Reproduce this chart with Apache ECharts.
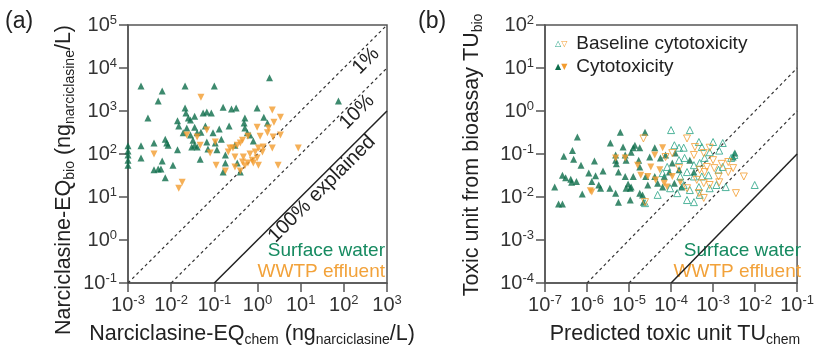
<!DOCTYPE html>
<html>
<head>
<meta charset="utf-8">
<script src="https://cdn.jsdelivr.net/npm/echarts@6/dist/echarts.min.js"></script>
<style>
  html, body { margin: 0; padding: 0; background: #fff; }
  #chart { width: 817px; height: 349px; }
</style>
</head>
<body>
<div id="chart"></div>
<script>
// panel (a): [Narciclasine-EQchem, Narciclasine-EQbio] in ng/L
const surfaceA = [
  [0.002,3800],[0.021,3800],[0.1,3800],[1.9,5900],[0.0062,2900],[0.005,1700],[75,1700],
  [0.0029,690],[0.021,1170],[0.022,900],[0.025,690],[0.035,760],[0.055,900],[0.067,950],
  [0.085,900],[0.16,1230],[0.25,1110],[0.32,1170],[0.98,1170],[0.014,590],[0.015,450],
  [0.023,400],[0.035,420],[0.062,450],[0.51,690],[0.49,525],[0.51,400],[1.4,720],[1.7,525],
  [0.22,450],[0.13,380],[0.019,310],[0.028,275],[0.04,310],[0.049,320],[0.093,310],
  [0.0073,220],[0.0079,180],[0.0085,160],[0.004,180],[0.032,210],[0.035,160],[0.03,145],
  [0.04,145],[0.067,190],[0.105,180],[0.145,220],[0.071,130],[0.115,125],[0.002,155],
  [0.014,125],[0.047,76],[0.18,95],[0.3,160],[0.8,200],[0.67,275],[0.58,310],[0.002,81],
  [0.0062,69],[0.004,43],[0.005,45],[0.0058,45],[0.011,55],[0.0073,28],[0.18,62],[0.34,62],
  [0.4,38],[0.16,38],[0.028,620],[0.001,155],[0.001,117],[0.001,95],[0.001,72],[0.001,55]
];
const wwtpA = [
  [0.049,2100],[2.2,1050],[3.4,720],[2.4,550],[1.8,400],[0.98,420],[0.6,260],[1.15,260],
  [1.7,310],[2.3,250],[3.4,275],[0.45,210],[0.4,180],[0.34,160],[0.23,138],[0.27,138],
  [0.067,360],[0.04,250],[0.023,275],[0.105,190],[0.08,105],[0.21,112],[0.47,85],[0.67,100],
  [0.89,112],[1.05,138],[1.35,145],[2.2,138],[8.8,138],[0.76,72],[0.98,81],[0.6,62],
  [1.05,55],[0.51,53],[3.0,55],[0.4,40],[0.11,55],[0.18,40],[0.004,100],[0.018,22],
  [0.015,16],[0.45,65],[0.3,50],[0.8,62],[1.3,112],[0.047,160],[0.3,85]
];

// panel (b): [TUchem, TUbio]
const surfaceCyto = [
  [1.7e-7,0.017],[2.1e-7,0.0069],[2.6e-7,0.0069],[2.6e-7,0.032],[2.8e-7,0.089],[3.1e-7,0.028],
  [4.1e-7,0.026],[4.3e-7,0.022],[5.6e-7,0.023],[4.8e-7,0.076],[4.5e-7,0.12],[5.9e-7,0.25],
  [7.2e-7,0.055],[7.7e-7,0.0118],[1.1e-6,0.036],[1.3e-6,0.023],[1.5e-6,0.069],[1.6e-6,0.031],
  [1.9e-6,0.019],[2.4e-6,0.04],[2.1e-6,0.016],[3.6e-6,0.18],[3.5e-6,0.016],[4.8e-6,0.0123],
  [5.0e-6,0.059],[5.6e-6,0.0076],[6.2e-6,0.32],[7.2e-6,0.145],[8.1e-6,0.095],[8.1e-6,0.03],
  [9.5e-6,0.02],[8.5e-6,0.016],[1.07e-5,0.016],[1.12e-5,0.017],[1.07e-5,0.0085],[1.12e-5,0.11],
  [1.26e-5,0.14],[1.38e-5,0.16],[1.26e-5,0.03],[1.7e-5,0.072],[1.8e-5,0.14],[1.8e-5,0.0123],
  [2.4e-5,0.32],[2.1e-5,0.0112],[2.2e-5,0.0076],[2.8e-5,0.019],[3.1e-5,0.085],[4.1e-5,0.14],
  [4.1e-5,0.03],[5.6e-5,0.081],[7.4e-5,0.095],[6.9e-5,0.03],[6.3e-5,0.017],[9.1e-5,0.038],
  [1.07e-4,0.062],[1.2e-4,0.021],[4.8e-6,0.095],[8.5e-6,0.072],[5.6e-6,0.038],[1.8e-5,0.05],
  [2.5e-5,0.03],[4.8e-5,0.021],[1.26e-4,0.105],[1.55e-4,0.043],[1.8e-4,0.017],[2.8e-4,0.072],
  [3.5e-4,0.038],[4.8e-6,0.072],[3.3e-3,0.105],[3.0e-3,0.085]
];
const wwtpCyto = [
  [4.8e-6,0.081],[1.3e-6,0.013],[1.6e-5,0.055],[4.1e-5,0.095],[6.3e-5,0.14],[3.3e-5,0.05],
  [5.4e-5,0.043],[2.8e-5,0.03],[4.3e-5,0.025],[6.9e-5,0.021],[1.07e-4,0.03],[1.9e-5,0.032],
  [8.1e-6,0.081],[8.1e-5,0.017],[1.66e-4,0.022],[1.2e-6,0.014]
];
const surfaceBase = [
  [1.0e-4,0.36],[2.8e-4,0.36],[1.55e-4,0.14],[2.0e-4,0.14],[4.6e-4,0.19],[5.4e-4,0.145],
  [1.0e-3,0.19],[8.3e-4,0.11],[1.4e-3,0.12],[1.7e-3,0.18],[1.55e-4,0.072],[2.1e-4,0.081],
  [3.5e-4,0.055],[4.8e-4,0.062],[6.3e-4,0.081],[1.66e-4,0.03],[2.4e-4,0.038],[3.5e-4,0.03],
  [5.4e-4,0.03],[7.8e-4,0.032],[1.35e-3,0.043],[1.7e-3,0.05],[2.7e-3,0.081],[9.5e-5,0.016],
  [1.4e-4,0.0123],[2.0e-4,0.019],[2.8e-4,0.0145],[2.4e-4,0.0085],[3.5e-4,0.0076],
  [4.8e-4,0.0112],[8.3e-4,0.016],[1.2e-3,0.019],[9.8e-3,0.019],[3.2e-3,0.095],[2.4e-5,0.0072],
  [4.8e-5,0.0112],[6.3e-5,0.036],[8.1e-5,0.05],[2.0e-3,0.017],[1.2e-4,0.16],[4.6e-4,0.017]
];
const wwtpBase = [
  [2.2e-5,0.23],[7.4e-5,0.085],[1.55e-4,0.047],[2.4e-4,0.23],[3.7e-4,0.145],[3.5e-4,0.095],
  [6.0e-4,0.105],[8.3e-4,0.14],[1.0e-3,0.072],[7.1e-4,0.05],[4.8e-4,0.043],[6.3e-4,0.038],
  [1.07e-3,0.047],[1.6e-3,0.059],[1.35e-3,0.03],[2.3e-3,0.038],[4.1e-4,0.025],[6.0e-4,0.021],
  [8.3e-4,0.019],[4.6e-4,0.0123],[6.0e-4,0.0095],[5.4e-3,0.03],[3.5e-3,0.0123],[2.4e-5,0.0076],
  [2.3e-3,0.065],[2.4e-4,0.016],[1.4e-3,0.022],[3.0e-3,0.047],[1.07e-4,0.105]
];

// explained fractions: bio = ratio * chem  (1 %, 10 %, 100 % explained)
const ratios = [100, 10, 1];
const rangeA = { x: [1e-3, 1e3], y: [1e-1, 1e5] };
const rangeB = { x: [1e-7, 1e-1], y: [1e-4, 1e2] };

const FONT = 'Liberation Sans, Arial, Helvetica, sans-serif';
const GREEN = '#0c6d4a';
const TEAL = '#27a385';
const ORANGE = '#f39c2e';
const TXT_GREEN = '#168a60';
const TXT_ORANGE = '#f2a23a';
const AXIS = '#555';

function ratioLine(range, r) {
  const x0 = Math.max(range.x[0], range.y[0] / r);
  const x1 = Math.min(range.x[1], range.y[1] / r);
  return [[x0, x0 * r], [x1, x1 * r]];
}

function logAxis(gridIndex, range, isX) {
  return {
    type: 'log',
    logBase: 10,
    gridIndex: gridIndex,
    min: range[0],
    max: range[1],
    interval: 1,
    axisLine: { show: true, onZero: false, lineStyle: { color: AXIS, width: 1.5 } },
    axisTick: { show: true, length: 9, lineStyle: { color: AXIS, width: 1.5 } },
    minorTick: { show: false },
    splitLine: { show: false },
    axisLabel: {
      margin: isX ? 11 : 11,
      color: '#333',
      fontFamily: FONT,
      fontSize: 20,
      lineHeight: 22,
      formatter: function (v) {
        return '10{s|' + Math.round(Math.log10(v)) + '}';
      },
      rich: {
        s: { fontSize: 13, lineHeight: 13, verticalAlign: 'top', fontFamily: FONT, color: '#333' }
      }
    }
  };
}

function lineSeries(idx, range) {
  return ratios.map(function (r) {
    return {
      type: 'line',
      xAxisIndex: idx,
      yAxisIndex: idx,
      data: ratioLine(range, r),
      symbol: 'none',
      silent: true,
      z: 1,
      lineStyle: r === 1
        ? { color: '#222', width: 1.5, type: 'solid' }
        : { color: '#333', width: 1.2, type: [3, 3] }
    };
  });
}

function scatter(idx, data, color, down, hollow) {
  return {
    type: 'scatter',
    xAxisIndex: idx,
    yAxisIndex: idx,
    data: data,
    symbol: 'triangle',
    symbolSize: 7,
    symbolRotate: down ? 180 : 0,
    clip: false,
    z: 3,
    itemStyle: hollow
      ? { color: 'rgba(255,255,255,0)', borderColor: color, borderWidth: 1 }
      : { color: color }
  };
}

const sub = { fontSize: 14, lineHeight: 14, verticalAlign: 'bottom', fontFamily: FONT, fill: '#222' };
function titleText(x, y, text, rot) {
  return {
    type: 'text',
    x: x,
    y: y,
    rotation: rot || 0,
    style: {
      text: text,
      fontFamily: FONT,
      fontSize: 21.5,
      lineHeight: 26,
      fill: '#222',
      align: 'center',
      verticalAlign: 'middle',
      rich: { sub: sub }
    }
  };
}
function plainText(x, y, text, size, color, align, rot) {
  return {
    type: 'text',
    x: x,
    y: y,
    rotation: rot || 0,
    style: {
      text: text,
      fontFamily: FONT,
      fontSize: size,
      fill: color,
      align: align,
      verticalAlign: 'middle'
    }
  };
}
function legendText(x, y, text, c1, c2) {
  return {
    type: 'text',
    x: x,
    y: y,
    style: {
      text: '{a|' + c1.glyph + '}{b|' + c2.glyph + '}{t|' + text + '}',
      fontFamily: FONT,
      verticalAlign: 'middle',
      rich: {
        a: { fontSize: 8, fill: c1.color, fontFamily: 'DejaVu Sans' },
        b: { fontSize: 8, fill: c2.color, fontFamily: 'DejaVu Sans', padding: [0, 9, 0, 0] },
        t: { fontSize: 19, fill: '#222', fontFamily: FONT }
      }
    }
  };
}

const chart = echarts.init(document.getElementById('chart'), null, { renderer: 'canvas' });

const option = {
  animation: false,
  backgroundColor: '#fff',
  grid: [
    { left: 128, top: 25, width: 259, height: 258, show: true, borderColor: AXIS, borderWidth: 1.5, backgroundColor: 'transparent' },
    { left: 545, top: 25, width: 258, height: 258, show: true, borderColor: AXIS, borderWidth: 1.5, backgroundColor: 'transparent' }
  ],
  xAxis: [logAxis(0, rangeA.x, true), logAxis(1, rangeB.x, true)],
  yAxis: [logAxis(0, rangeA.y, false), logAxis(1, rangeB.y, false)],
  series: [].concat(
    lineSeries(0, rangeA),
    lineSeries(1, rangeB),
    [
      scatter(0, surfaceA, GREEN, false, false),
      scatter(0, wwtpA, ORANGE, true, false),
      scatter(1, surfaceCyto, GREEN, false, false),
      scatter(1, wwtpCyto, ORANGE, true, false),
      scatter(1, surfaceBase, TEAL, false, true),
      scatter(1, wwtpBase, ORANGE, true, true)
    ]
  ),
  graphic: [
    plainText(5, 22, '(a)', 23, '#222', 'left'),
    plainText(418, 22, '(b)', 23, '#222', 'left'),
    titleText(64, 180, 'Narciclasine-EQ{sub|bio} (ng{sub|narciclasine}/L)', Math.PI / 2),
    titleText(252, 334, 'Narciclasine-EQ{sub|chem} (ng{sub|narciclasine}/L)'),
    titleText(472, 155, 'Toxic unit from bioassay TU{sub|bio}', Math.PI / 2),
    titleText(675, 334, 'Predicted toxic unit TU{sub|chem}'),
    plainText(366, 61, '1%', 20, '#222', 'center', Math.PI / 4),
    plainText(357, 112, '10%', 20, '#222', 'center', Math.PI / 4),
    plainText(322, 189, '100% explained', 20, '#222', 'center', Math.PI / 4),
    plainText(385, 251, 'Surface water', 19, TXT_GREEN, 'right'),
    plainText(385, 272, 'WWTP effluent', 19, TXT_ORANGE, 'right'),
    plainText(801, 251, 'Surface water', 19, TXT_GREEN, 'right'),
    plainText(801, 272, 'WWTP effluent', 19, TXT_ORANGE, 'right'),
    legendText(555, 44, 'Baseline cytotoxicity', { glyph: '△', color: TEAL }, { glyph: '▽', color: ORANGE }),
    legendText(555, 67, 'Cytotoxicity', { glyph: '▲', color: GREEN }, { glyph: '▼', color: ORANGE })
  ]
};

chart.setOption(option);
</script>
</body>
</html>
